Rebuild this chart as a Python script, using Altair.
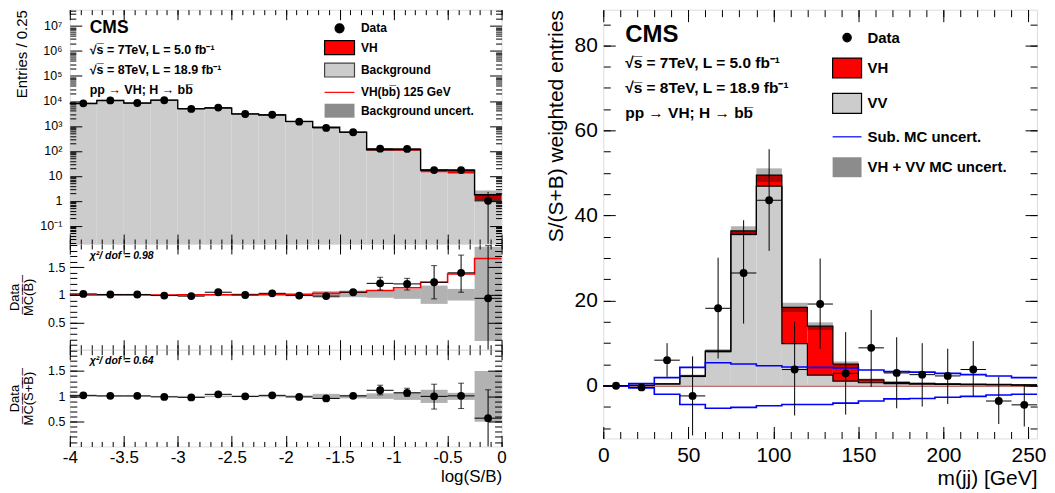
import altair as alt
import pandas as pd

FONT = "Liberation Sans"

# ---------------- left figure : log(S/B) ----------------
lsb_edges = [-4.0, -3.75, -3.5, -3.25, -3.0, -2.75, -2.5, -2.25, -2.0,
             -1.75, -1.5, -1.25, -1.0, -0.75, -0.5, -0.25, 0.0]
lsb_data = [8000, 10500, 8300, 10700, 4800, 5400, 3000, 2800, 1480, 830, 560, 123, 120, 17, 17, 1.0]
lsb_data_lo = [7910, 10400, 8210, 10600, 4730, 5330, 2945, 2750, 1440, 800, 536, 112, 109, 13, 13, 0.019]
lsb_data_hi = [8090, 10600, 8390, 10800, 4870, 5470, 3055, 2850, 1520, 860, 584, 134, 131, 21, 21, 2.3]
lsb_bkg = [7850, 10400, 8200, 10800, 4900, 5150, 3000, 2720, 1500, 855, 535, 103, 101, 13.9, 12.3, 1.06]
lsb_sig = [3, 5, 5, 8, 12, 15, 20, 25, 22, 26, 27, 8, 13, 3.2, 4.7, 0.7]
lsb_unc_lo = [7740, 10250, 8080, 10650, 4840, 5090, 2975, 2705, 1495, 855, 545, 104, 106, 15.6, 15.4, 1.0]
lsb_unc_hi = [7970, 10560, 8330, 10970, 4985, 5240, 3065, 2785, 1550, 907, 579, 118, 122, 18.6, 18.6, 2.6]

# ratio Data / MC(B)
rb_val = [1.02, 1.01, 1.01, 0.99, 0.98, 1.05, 1.0, 1.03, 0.99, 0.98, 1.05, 1.21, 1.20, 1.23, 1.40, 0.94]
rb_lo = [1.0, 0.995, 0.995, 0.975, 0.965, 1.03, 0.985, 1.01, 0.97, 0.955, 1.02, 1.09, 1.09, 0.93, 1.05, 0.013]
rb_hi = [1.04, 1.025, 1.025, 1.005, 0.995, 1.07, 1.015, 1.05, 1.01, 1.005, 1.08, 1.32, 1.30, 1.53, 1.72, 1.89]
rb_band_lo = [0.99, 0.99, 0.99, 0.99, 0.99, 0.985, 0.985, 0.985, 0.98, 0.95, 0.96, 0.95, 0.93, 0.84, 0.90, 0.17]
rb_band_hi = [1.01, 1.01, 1.01, 1.01, 1.01, 1.015, 1.015, 1.015, 1.02, 1.07, 1.08, 1.08, 1.11, 1.17, 1.11, 1.87]
rb_sig = [1.0, 1.0, 1.0, 1.0, 1.005, 1.005, 1.01, 1.01, 1.015, 1.03, 1.05, 1.08, 1.13, 1.23, 1.38, 1.66]

# ratio Data / MC(S+B)
rsb_val = [1.02, 1.01, 1.01, 0.99, 0.98, 1.04, 1.0, 1.02, 0.99, 0.96, 1.01, 1.12, 1.07, 1.0, 1.01, 0.57]
rsb_lo = [1.0, 0.995, 0.995, 0.975, 0.965, 1.02, 0.985, 1.0, 0.97, 0.94, 0.98, 1.03, 1.0, 0.75, 0.76, 0.013]
rsb_hi = [1.04, 1.025, 1.025, 1.005, 0.995, 1.06, 1.015, 1.04, 1.01, 0.98, 1.04, 1.22, 1.16, 1.24, 1.26, 1.13]
rsb_band_lo = [0.99, 0.99, 0.99, 0.99, 0.99, 0.985, 0.985, 0.985, 0.98, 0.95, 0.96, 0.95, 0.93, 0.87, 0.93, 0.50]
rsb_band_hi = [1.01, 1.01, 1.01, 1.01, 1.01, 1.015, 1.015, 1.015, 1.02, 1.05, 1.03, 1.06, 1.08, 1.13, 1.07, 1.50]

# ---------------- right figure : m(jj) ----------------
mjj_edges = [0, 15, 30, 45, 60, 75, 90, 105, 120, 135, 150, 165, 180, 195, 210, 225, 240, 255]
mjj_vv = [0.0, 0.1, 0.4, 2.2, 8.0, 35.6, 46.9, 9.9, 2.5, 1.1, 0.7, 0.5, 0.35, 0.3, 0.25, 0.2, 0.15]
mjj_vh = [0.0, 0.0, 0.05, 0.1, 0.2, 0.8, 2.6, 8.5, 11.5, 4.0, 0.7, 0.3, 0.2, 0.15, 0.1, 0.1, 0.05]
mjj_unc = [0.0, 0.05, 0.1, 0.3, 0.4, 1.1, 1.6, 1.1, 0.9, 0.6, 0.3, 0.2, 0.15, 0.1, 0.1, 0.1, 0.1]
mjj_data = [0.0, -0.4, 6.0, -2.4, 18.2, 26.5, 43.6, 3.8, 19.2, 2.9, 8.9, 3.0, 2.6, 2.3, 3.8, -3.6, -4.5]
mjj_data_lo = [-0.3, -0.8, 2.1, -11.7, 6.4, 14.6, 31.7, -7.0, 8.7, -6.8, -0.3, -5.3, -4.9, -4.3, -2.6, -9.0, -9.6]
mjj_data_hi = [0.3, 0.0, 10.0, 6.9, 30.1, 38.9, 55.6, 15.0, 29.9, 12.6, 17.8, 11.4, 10.0, 8.7, 10.5, 2.1, 0.3]
mjj_sub_hi = [0.0, 0.5, 1.9, 4.3, 5.4, 5.1, 4.7, 4.4, 4.3, 4.2, 3.7, 3.3, 3.2, 2.9, 2.6, 2.3, 1.9]
mjj_sub_lo = [0.0, -0.5, -2.0, -4.4, -5.3, -5.1, -4.7, -4.4, -4.4, -4.1, -3.6, -3.1, -3.0, -2.7, -2.5, -2.2, -2.0]

# legends
left_leg = ["Data", "VH", "Background", "VH(bb\u0305) 125 GeV", "Background uncert."]
right_leg = ["Data", "VH", "VV", "Sub. MC uncert.", "VH + VV MC uncert."]

# ---------------- tables ----------------
L = pd.DataFrame({
    "lo": lsb_edges[:-1], "hi": lsb_edges[1:],
    "data": lsb_data, "dlo": lsb_data_lo, "dhi": lsb_data_hi,
    "bkg": lsb_bkg, "sig": lsb_sig, "ulo": lsb_unc_lo, "uhi": lsb_unc_hi,
    "rb": rb_val, "rblo": rb_lo, "rbhi": rb_hi, "rbbl": rb_band_lo, "rbbh": rb_band_hi,
    "rsb": rsb_val, "rsblo": rsb_lo, "rsbhi": rsb_hi, "rsbbl": rsb_band_lo, "rsbbh": rsb_band_hi,
})
L["mid"] = (L["lo"] + L["hi"]) / 2
L["tot"] = L["bkg"] + L["sig"]
step_tot = pd.DataFrame({"x": lsb_edges, "y": list(L["tot"]) + [L["tot"].iloc[-1]]})
step_sig = pd.DataFrame({"x": lsb_edges, "y": rb_sig + [rb_sig[-1]]})

R = pd.DataFrame({
    "lo": mjj_edges[:-1], "hi": mjj_edges[1:], "vv": mjj_vv, "vh": mjj_vh, "unc": mjj_unc,
    "data": mjj_data, "dlo": mjj_data_lo, "dhi": mjj_data_hi,
})
R["mid"] = (R["lo"] + R["hi"]) / 2
R["tot"] = R["vv"] + R["vh"]
R["ulo"] = R["tot"] - R["unc"]
R["uhi"] = R["tot"] + R["unc"]
st_vv = pd.DataFrame({"x": mjj_edges, "y": mjj_vv + [mjj_vv[-1]]})
st_tot = pd.DataFrame({"x": mjj_edges, "y": list(R["tot"]) + [R["tot"].iloc[-1]]})
st_shi = pd.DataFrame({"x": mjj_edges, "y": mjj_sub_hi + [mjj_sub_hi[-1]]})
st_slo = pd.DataFrame({"x": mjj_edges, "y": mjj_sub_lo + [mjj_sub_lo[-1]]})

# ---------------- helpers ----------------
def AX(orient, values, size, labels=False, **kw):
    kw.setdefault("title", None)
    return alt.Axis(orient=orient, values=values, tickSize=size, offset=-size, domain=False,
                    grid=False, labels=labels, ticks=True, tickColor="black", tickWidth=1,
                    zindex=3, labelColor="black", titleColor="black", labelFlush=False,
                    labelOverlap=False, labelFont=FONT, titleFont=FONT,
                    titleFontWeight="normal", **kw)

def txt(s, x, y, size, weight="bold", style="normal"):
    return alt.Chart(pd.DataFrame({"t": [s]})).mark_text(
        align="left", baseline="middle", fontSize=size, fontWeight=weight,
        fontStyle=style, color="black", font=FONT
    ).encode(x=alt.value(x), y=alt.value(y), text="t:N")

def legend_layer(field, labels, fills, strokes, shapes, lx, ly, fsize, off, rowpad):
    lg = alt.Legend(orient="none", legendX=lx, legendY=ly, title=None, symbolSize=400,
                    symbolStrokeWidth=1.2, labelFontSize=fsize, labelFontWeight="bold",
                    labelOffset=off, rowPadding=rowpad, padding=0, labelColor="black",
                    labelLimit=400, labelFont=FONT, symbolOpacity=1)
    df = pd.DataFrame({field: labels})
    return alt.Chart(df).transform_filter("false").mark_point(filled=True, size=400, opacity=1).encode(
        fill=alt.Fill(f"{field}:N", scale=alt.Scale(domain=labels, range=fills), legend=lg),
        stroke=alt.Stroke(f"{field}:N", scale=alt.Scale(domain=labels, range=strokes), legend=lg),
        shape=alt.Shape(f"{field}:N", scale=alt.Scale(domain=labels, range=shapes), legend=lg),
    )

def circ(r):
    return f"M-{r},0A{r},{r},0,1,0,{r},0A{r},{r},0,1,0,-{r},0Z"

def rectp(w, h):
    return f"M-{w},-{h}H{w}V{h}H-{w}Z"

W_L, MAIN_H, MID_H, BOT_H = 433, 235, 106, 97
W_R, H_R = 435, 430

xsL = alt.Scale(domain=[-4, 0], nice=False, zero=False)
ysM = alt.Scale(type="log", domain=[0.0187, 4.5e7], nice=False)
ysR = alt.Scale(domain=[0.013, 1.92], nice=False, zero=False)

x_major = [-4, -3.5, -3, -2.5, -2, -1.5, -1, -0.5, 0]
x_minor = [round(-4 + 0.1 * i, 2) for i in range(41)]
log_major = [0.1, 1, 10, 100, 1e3, 1e4, 1e5, 1e6, 1e7]
log_minor = [m * 10.0 ** k for k in range(-2, 8) for m in range(2, 10) if 0.0187 < m * 10.0 ** k < 4.5e7]
r_major = [0.5, 1, 1.5]
r_minor = [round(0.1 * i, 2) for i in range(1, 20)]
log_expr = ("datum.value < 0.5 ? '10\u207b\u00b9' : datum.value < 5 ? '1' : datum.value < 50 ? '10' : "
            "'10' + ['','','\u00b2','\u00b3','\u2074','\u2075','\u2076','\u2077'][round(log(datum.value)/LN10)]")
plain_expr = "'' + datum.value"

NOAX = dict(axis=None)

# ---------------- main panel ----------------
base = alt.Chart(L)
gray = base.mark_rect(color="#cccccc").encode(
    x=alt.X("lo:Q", scale=xsL, axis=AX("bottom", x_major, 10)),
    x2="hi:Q",
    y=alt.Y("bkg:Q", scale=ysM, axis=AX("left", log_major, 12, labels=True, labelExpr=log_expr,
                                          labelFontSize=12.5, labelPadding=8, title="Entries / 0.25",
                                          titleFontSize=15, titleAnchor="end", titlePadding=10)),
    y2=alt.value(MAIN_H),
)
red = base.mark_rect(color="#ff0000").encode(
    x=alt.X("lo:Q", scale=xsL, axis=AX("bottom", x_minor, 5)), x2="hi:Q",
    y=alt.Y("bkg:Q", scale=ysM, axis=AX("left", log_minor, 6)), y2="tot:Q",
)
hatch = base.mark_rect(color="black", opacity=0.3).encode(
    x=alt.X("lo:Q", scale=xsL, axis=AX("top", x_major, 10)), x2="hi:Q",
    y=alt.Y("ulo:Q", scale=ysM, axis=AX("right", log_major, 12)), y2="uhi:Q",
)
step = alt.Chart(step_tot).mark_line(interpolate="step-after", color="black", strokeWidth=1.4).encode(
    x=alt.X("x:Q", scale=xsL, axis=AX("top", x_minor, 5)),
    y=alt.Y("y:Q", scale=ysM, axis=AX("right", log_minor, 6)),
)
ebar = base.mark_rule(color="black").encode(
    x=alt.X("mid:Q", scale=xsL, **NOAX), y=alt.Y("dlo:Q", scale=ysM, **NOAX), y2="dhi:Q")
hbar = base.mark_rule(color="black").encode(
    x=alt.X("lo:Q", scale=xsL, **NOAX), x2="hi:Q", y=alt.Y("data:Q", scale=ysM, **NOAX))
pts = base.mark_circle(size=62, color="black", opacity=1).encode(
    x=alt.X("mid:Q", scale=xsL, **NOAX), y=alt.Y("data:Q", scale=ysM, **NOAX))
legL = legend_layer("entryL", left_leg,
                    ["black", "#ff0000", "#cccccc", "transparent", "#8c8c8c"],
                    ["black", "black", "#444444", "#ff0000", "transparent"],
                    [circ(0.45), rectp(1.5, 0.7), rectp(1.5, 0.7), "M-1.5,0H1.5", rectp(1.5, 0.7)],
                    259.5, 7.7, 12, 10.5, 1.4)
main = alt.layer(
    gray, red, hatch, step, ebar, hbar, pts, legL,
    txt("CMS", 20, 18, 17.5),
    txt("\u221as\u0305 =  7TeV, L = 5.0 fb\u207b\u00b9", 20, 40, 12.5),
    txt("\u221as\u0305 =  8TeV, L = 18.9 fb\u207b\u00b9", 20, 60, 12.5),
    txt("pp \u2192 VH; H \u2192 bb\u0305", 20, 81, 12.5),
).resolve_axis(x="independent", y="independent").properties(width=W_L, height=MAIN_H)

# ---------------- ratio Data/MC(B) ----------------
band1 = base.mark_rect(color="black", opacity=0.3).encode(
    x=alt.X("lo:Q", scale=xsL, axis=AX("bottom", x_major, 10)), x2="hi:Q",
    y=alt.Y("rbbl:Q", scale=ysR, axis=AX("left", r_major, 14, labels=True, labelFontSize=12.5,
                                           labelPadding=5, labelExpr=plain_expr,
                                           title=["Data", "M\u0305C\u0305(\u0305B\u0305)\u0305"],
                                           titleFontSize=13, titleLineHeight=14, titlePadding=12)),
    y2="rbbh:Q",
)
sigline = alt.Chart(step_sig).mark_line(interpolate="step-after", color="#ff0000", strokeWidth=1.6).encode(
    x=alt.X("x:Q", scale=xsL, axis=AX("bottom", x_minor, 5)),
    y=alt.Y("y:Q", scale=ysR, axis=AX("left", r_minor, 7)),
)
eb1 = base.mark_rule(color="black").encode(
    x=alt.X("mid:Q", scale=xsL, axis=AX("top", x_major, 10)),
    y=alt.Y("rblo:Q", scale=ysR, axis=AX("right", r_major, 14)), y2="rbhi:Q")
hb1 = base.mark_rule(color="black").encode(
    x=alt.X("lo:Q", scale=xsL, axis=AX("top", x_minor, 5)), x2="hi:Q",
    y=alt.Y("rb:Q", scale=ysR, axis=AX("right", r_minor, 7)))
cap1a = base.mark_tick(orient="horizontal", size=6, thickness=1, color="black").encode(
    x=alt.X("mid:Q", scale=xsL, **NOAX), y=alt.Y("rbhi:Q", scale=ysR, **NOAX))
cap1b = base.transform_filter("datum.rblo > 0.05").mark_tick(
    orient="horizontal", size=6, thickness=1, color="black").encode(
    x=alt.X("mid:Q", scale=xsL, **NOAX), y=alt.Y("rblo:Q", scale=ysR, **NOAX))
p1 = base.mark_circle(size=62, color="black", opacity=1).encode(
    x=alt.X("mid:Q", scale=xsL, **NOAX), y=alt.Y("rb:Q", scale=ysR, **NOAX))
ratio1 = alt.layer(
    band1, sigline, eb1, hb1, cap1a, cap1b, p1,
    txt("\u03c7\u00b2/ dof = 0.98", 20, 12, 10.5, style="italic"),
).resolve_axis(x="independent", y="independent").properties(width=W_L, height=MID_H)

# ---------------- ratio Data/MC(S+B) ----------------
band2 = base.mark_rect(color="black", opacity=0.3).encode(
    x=alt.X("lo:Q", scale=xsL, axis=AX("bottom", x_major, 11, labels=True, labelFontSize=17,
                                         labelPadding=3, labelExpr="datum.value == 0 ? '0' : '' + datum.value",
                                         title="log(S/B)", titleFontSize=17, titleAnchor="end",
                                         titlePadding=3)),
    x2="hi:Q",
    y=alt.Y("rsbbl:Q", scale=ysR, axis=AX("left", r_major, 14, labels=True, labelFontSize=12.5,
                                            labelPadding=5, labelExpr=plain_expr,
                                            title=["Data", "M\u0305C\u0305(\u0305S\u0305+\u0305B\u0305)\u0305"],
                                            titleFontSize=13, titleLineHeight=14, titlePadding=12)),
    y2="rsbbh:Q",
)
eb2 = base.mark_rule(color="black").encode(
    x=alt.X("mid:Q", scale=xsL, axis=AX("bottom", x_minor, 5)),
    y=alt.Y("rsblo:Q", scale=ysR, axis=AX("left", r_minor, 7)), y2="rsbhi:Q")
hb2 = base.mark_rule(color="black").encode(
    x=alt.X("lo:Q", scale=xsL, axis=AX("top", x_major, 10)), x2="hi:Q",
    y=alt.Y("rsb:Q", scale=ysR, axis=AX("right", r_major, 14)))
p2 = base.mark_circle(size=62, color="black", opacity=1).encode(
    x=alt.X("mid:Q", scale=xsL, axis=AX("top", x_minor, 5)),
    y=alt.Y("rsb:Q", scale=ysR, axis=AX("right", r_minor, 7)))
cap2a = base.mark_tick(orient="horizontal", size=6, thickness=1, color="black").encode(
    x=alt.X("mid:Q", scale=xsL, **NOAX), y=alt.Y("rsbhi:Q", scale=ysR, **NOAX))
cap2b = base.transform_filter("datum.rsblo > 0.05").mark_tick(
    orient="horizontal", size=6, thickness=1, color="black").encode(
    x=alt.X("mid:Q", scale=xsL, **NOAX), y=alt.Y("rsblo:Q", scale=ysR, **NOAX))
ratio2 = alt.layer(
    band2, eb2, hb2, p2, cap2a, cap2b,
    txt("\u03c7\u00b2/ dof = 0.64", 20, 11, 10.5, style="italic"),
).resolve_axis(x="independent", y="independent").properties(width=W_L, height=BOT_H)

left = alt.vconcat(main, ratio1, ratio2, spacing=0, bounds="flush")

# ---------------- right panel ----------------
xsR = alt.Scale(domain=[0, 255], nice=False, zero=False)
ysRR = alt.Scale(domain=[-12.4, 88.4], nice=False, zero=False)
rx_major = [0, 50, 100, 150, 200, 250]
rx_minor = list(range(0, 256, 10))
ry_major = [0, 20, 40, 60, 80]
ry_minor = list(range(-10, 90, 5))

rb = alt.Chart(R)
zero = rb.mark_rule(color="#c07070", strokeWidth=1).encode(
    y=alt.Y(datum=0, scale=ysRR, axis=None))
rgray = rb.mark_rect(color="#cccccc").encode(
    x=alt.X("lo:Q", scale=xsR, axis=AX("bottom", rx_major, 12, labels=True, labelFontSize=21,
                                         labelPadding=6, title="m(jj) [GeV]", titleFontSize=21,
                                         titleAnchor="end", titlePadding=2)),
    x2="hi:Q",
    y=alt.Y("vv:Q", scale=ysRR, axis=AX("left", ry_major, 12, labels=True, labelFontSize=21,
                                          labelPadding=6, title="S/(S+B) weighted entries",
                                          titleFontSize=21, titleAnchor="end", titlePadding=8)),
    y2=alt.datum(0),
)
rred = rb.mark_rect(color="#ff0000").encode(
    x=alt.X("lo:Q", scale=xsR, axis=AX("bottom", rx_minor, 7)), x2="hi:Q",
    y=alt.Y("vv:Q", scale=ysRR, axis=AX("left", ry_minor, 7)), y2="tot:Q")
rhatch = rb.mark_rect(color="black", opacity=0.3).encode(
    x=alt.X("lo:Q", scale=xsR, axis=AX("top", rx_major, 12)), x2="hi:Q",
    y=alt.Y("ulo:Q", scale=ysRR, axis=AX("right", ry_major, 12)), y2="uhi:Q")
rstep_vv = alt.Chart(st_vv).mark_line(interpolate="step-after", color="black", strokeWidth=1.2).encode(
    x=alt.X("x:Q", scale=xsR, axis=AX("top", rx_minor, 7)),
    y=alt.Y("y:Q", scale=ysRR, axis=AX("right", ry_minor, 7)))
rstep_tot = alt.Chart(st_tot).mark_line(interpolate="step-after", color="black", strokeWidth=1.2).encode(
    x=alt.X("x:Q", scale=xsR, **NOAX), y=alt.Y("y:Q", scale=ysRR, **NOAX))
rblue_hi = alt.Chart(st_shi).mark_line(interpolate="step-after", color="#0000ff", strokeWidth=1.6).encode(
    x=alt.X("x:Q", scale=xsR, **NOAX), y=alt.Y("y:Q", scale=ysRR, **NOAX))
rblue_lo = alt.Chart(st_slo).mark_line(interpolate="step-after", color="#0000ff", strokeWidth=1.6).encode(
    x=alt.X("x:Q", scale=xsR, **NOAX), y=alt.Y("y:Q", scale=ysRR, **NOAX))
reb = rb.mark_rule(color="black").encode(
    x=alt.X("mid:Q", scale=xsR, **NOAX), y=alt.Y("dlo:Q", scale=ysRR, **NOAX), y2="dhi:Q")
rhb = rb.mark_rule(color="black").encode(
    x=alt.X("lo:Q", scale=xsR, **NOAX), x2="hi:Q", y=alt.Y("data:Q", scale=ysRR, **NOAX))
rpts = rb.mark_circle(size=62, color="black", opacity=1).encode(
    x=alt.X("mid:Q", scale=xsR, **NOAX), y=alt.Y("data:Q", scale=ysRR, **NOAX))
legR = legend_layer("entryR", right_leg,
                    ["black", "#ff0000", "#cccccc", "transparent", "#8c8c8c"],
                    ["black", "black", "black", "#0000ff", "transparent"],
                    [circ(0.42), rectp(1.45, 1.0), rectp(1.45, 1.0), "M-1.45,0H1.45", rectp(1.45, 1.0)],
                    233.5, 17, 15, 9.5, 9.5)
right = alt.layer(
    zero, rgray, rred, rhatch, rstep_vv, rstep_tot, rblue_hi, rblue_lo, reb, rhb, rpts, legR,
    txt("CMS", 22, 25, 24),
    txt("\u221as\u0305 =  7TeV, L = 5.0 fb\u207b\u00b9", 22, 53, 15.5),
    txt("\u221as\u0305 =  8TeV, L = 18.9 fb\u207b\u00b9", 22, 79, 15.5),
    txt("pp \u2192 VH; H \u2192 bb\u0305", 22, 104, 15.5),
).resolve_axis(x="independent", y="independent").properties(width=W_R, height=H_R)

chart = alt.hconcat(left, right, spacing=37).resolve_scale(
    fill="independent", stroke="independent", shape="independent"
).properties(padding={"left": 0, "top": 0, "right": 0, "bottom": 0}).configure_view(
    stroke="black", strokeWidth=1.3
).configure(font=FONT)

chart.save("out.html", embed_options={"renderer": "svg", "actions": False})
